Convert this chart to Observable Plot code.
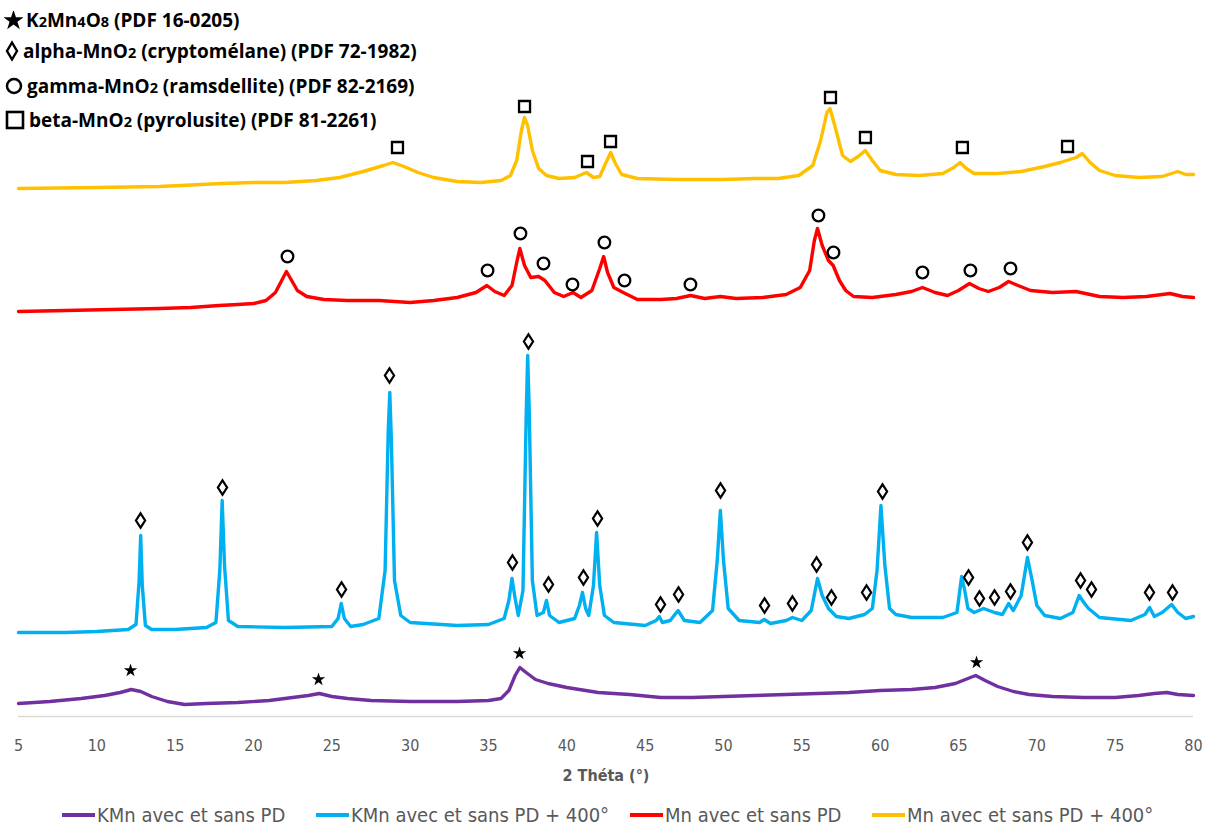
<!DOCTYPE html>
<html><head><meta charset="utf-8">
<script src="https://cdn.jsdelivr.net/npm/d3@7"></script>
<script src="https://cdn.jsdelivr.net/npm/@observablehq/plot@0.6"></script>
<style>
body{margin:0;background:#fff;}
#wrap{position:relative;width:1212px;height:830px;overflow:hidden;}
#sym{position:absolute;left:0;top:0;font-family:"Open Sans","Noto Sans",sans-serif;font-weight:700;font-size:19px;color:#000;}
.row{position:absolute;left:4px;white-space:nowrap;display:flex;align-items:center;height:24px;}
.row svg{margin-right:3px;}
.sub{font-size:14.5px;}
.leg{position:absolute;top:803px;height:24px;display:flex;align-items:center;white-space:nowrap;font-family:"Liberation Sans Narrow","DejaVu Sans Condensed","Liberation Sans",sans-serif;font-size:20px;color:#595959;}
.sw{width:33px;height:4px;margin-right:2px;}
</style>
</head><body>
<div id="wrap"></div>
<script>
// ---------- data (2θ in degrees, intensity in arbitrary units incl. vertical offsets) ----------
const seriesNames = ["KMn avec et sans PD", "KMn avec et sans PD + 400°", "Mn avec et sans PD", "Mn avec et sans PD + 400°"];
const seriesColors = ["#7030a0", "#00b0f0", "#ff0000", "#ffc000"];

const thetaKMn = [5,7,9,10.5,11.5,12.2,12.8,13.5,14.5,15.6,17,19,21,22.5,23.5,24.2,25,26,27.5,30,33,35,35.8,36.3,36.7,37,37.4,38,38.8,40,42,44,46,48,50,52,54,56,58,60,62,63.5,64.8,65.6,66.1,66.7,67.5,68.5,69.5,71,73,75,76.5,77.5,78.3,79,80];
const intKMn   = [13,15,18,21,24,27,25,20,15,12,13,14,16,19,21,23,20,18,16,15,15,16,18,26,41,49,44,37,33,29,24,22,19,19,20,21,22,23,24,26,27,29,33,38,41,36,30,25,22,20,19,19,21,23,24,22,21];

const thetaKMn400 = [5,8,10,12,12.5,12.7,12.8,12.9,13.1,13.5,15,17,17.6,17.85,18,18.15,18.4,19,22,25,25.4,25.6,25.8,26.2,27,28,28.4,28.6,28.7,28.8,29,29.4,30,33,35,36,36.3,36.5,36.7,36.9,37.2,37.4,37.5,37.6,37.8,38.1,38.5,38.7,38.9,39.5,40.5,40.8,41,41.2,41.4,41.7,41.9,42.1,42.4,43,45,45.7,45.9,46.1,46.6,47.1,47.5,48.5,49.3,49.6,49.8,50,50.3,51,52.3,52.6,53,54,54.4,55,55.6,56,56.3,56.7,57.2,58,59,59.5,59.8,60.05,60.3,60.6,61,62,64,64.9,65.2,65.4,65.6,66,66.6,67.3,67.8,68.2,68.5,69,69.4,69.7,70,70.5,71.5,72.3,72.7,73,73.3,74,76,76.9,77.2,77.5,78,78.6,79,79.5,80];
const intKMn400   = [84,84,85,87,92,136,181,131,91,87,87,89,94,146,216,151,96,90,89,90,98,113,98,90,92,98,146,286,324,276,136,101,94,91,92,98,116,138,118,101,126,296,361,306,136,101,104,116,101,94,98,111,124,108,101,131,184,131,101,94,91,96,100,94,96,106,96,94,106,156,206,156,108,96,94,97,93,96,99,96,106,138,121,108,100,98,102,108,146,211,151,108,102,99,99,104,140,126,108,104,108,104,102,113,106,121,159,136,111,101,98,104,121,114,108,99,96,102,109,100,104,112,104,98,100];

const thetaMn = [5,8,11,14,16,17.8,19,20,20.8,21.4,21.8,22.1,22.4,22.8,23.4,24.5,26,28,30,31.5,33,34.2,34.9,35.4,36,36.5,36.8,37,37.3,37.7,38.2,38.6,39.2,39.8,40.4,40.9,41.6,42.1,42.35,42.6,43,43.6,44.5,46,47,47.9,48.8,49.8,50.8,52.5,54,54.9,55.5,55.8,56,56.3,56.7,57,57.4,57.8,58.3,59.5,61,62,62.7,63.5,64.3,65,65.7,66.3,66.9,67.6,68.2,68.8,69.6,71,72.5,74,75.5,77,78.5,79.3,80];
const intMn   = [405,406,407,408,409,411,412,413,416,424,436,445,437,426,420,417,416,416,414,416,419,424,431,425,421,431,454,468,451,439,440,436,424,420,424,419,426,448,460,444,429,424,417,417,418,421,418,420,418,419,422,429,446,476,488,471,456,451,436,426,420,419,422,425,429,424,421,426,433,428,425,429,435,431,426,424,425,420,419,420,423,420,419];

const thetaMn400 = [5,10,14,18,20,22,24,25.5,27,28.3,28.9,29.6,30.5,31.5,33,34.5,35.8,36.4,36.8,37.1,37.3,37.5,37.8,38.2,38.7,39.5,40.5,41.25,41.7,42.1,42.5,42.8,43.1,43.5,44.5,47,50,52,53.5,54.8,55.7,56.2,56.6,56.8,57.1,57.6,58.1,58.6,59.05,59.5,60,61,62.5,64,64.7,65.1,65.5,66,67.5,69,70.5,71.5,72.5,72.9,73.4,74,75,76.5,78,79,79.5,80];
const intMn400   = [528,529,530,533,534,534,536,539,545,551,554,550,544,539,535,534,536,541,556,586,599,591,566,548,541,538,539,544,539,540,554,564,553,542,538,537,537,538,538,541,551,576,604,608,591,561,555,560,566,556,546,542,541,543,549,554,548,543,543,545,550,554,559,563,554,546,541,539,540,545,542,542];

// phase markers (2θ, height at which the marker is drawn)
const starTheta = [12.15, 24.15, 36.98, 66.15];
const starInt   = [46, 37, 63, 54];
const diamondTheta = [12.79,18.02,25.62,28.68,36.53,37.55,38.83,41.06,41.96,45.98,47.13,49.81,52.62,54.40,55.94,56.89,59.13,60.15,65.64,66.34,67.30,68.32,69.40,72.79,73.49,77.19,78.66];
const diamondInt   = [196,229,127,341,154,375,132,139,198,112,122,226,111,113,152,119,124,225,139,118,119,125,174,136,127,124,124];
const circleTheta = [22.17,34.94,37.04,38.51,40.36,42.40,43.68,47.89,56.06,57.02,62.70,65.76,68.32];
const circleInt   = [460,446,483,453,432,474,436,432,501,464,444,446,448];
const squareTheta = [29.19,37.30,41.32,42.79,56.83,59.06,65.25,71.96];
const squareInt   = [569,610,555,575,619,579,569,570];

const xTicks = [5,10,15,20,25,30,35,40,45,50,55,60,65,70,75,80];
const xLabel = "2 Théta (°)";
const phaseLabels = [
  ['K<span class="sub">2</span>Mn<span class="sub">4</span>O<span class="sub">8</span> (PDF 16-0205)'],
  ['alpha-MnO<span class="sub">2</span> (cryptomélane) (PDF 72-1982)'],
  ['gamma-MnO<span class="sub">2</span> (ramsdellite) (PDF 82-2169)'],
  ['beta-MnO<span class="sub">2</span> (pyrolusite) (PDF 81-2261)']
];

// ---------- build tables ----------
const traces = [
  [thetaKMn, intKMn], [thetaKMn400, intKMn400], [thetaMn, intMn], [thetaMn400, intMn400]
].flatMap(([t, v], i) => t.map((x, j) => ({series: seriesNames[i], theta: x, intensity: v[j]})));
const pts = (t, v) => t.map((x, j) => ({theta: x, intensity: v[j]}));

const lozenge = {draw(ctx, size) { const s = Math.sqrt(size) / 4.43; ctx.moveTo(0, -7.2*s); ctx.lineTo(4.6*s, 0); ctx.lineTo(0, 7.2*s); ctx.lineTo(-4.6*s, 0); ctx.closePath(); }};

const chart = Plot.plot({
  width: 1212, height: 790,
  marginLeft: 18, marginRight: 19, marginTop: 0, marginBottom: 74,
  style: {fontFamily: '"Liberation Sans Narrow","DejaVu Sans Condensed","Liberation Sans",sans-serif', background: "white"},
  x: {domain: [5, 80]},
  y: {domain: [0, 716], axis: null},
  color: {domain: seriesNames, range: seriesColors},
  marks: [
    Plot.ruleY([0], {stroke: "#d9d9d9", strokeWidth: 1.5}),
    Plot.axisX({ticks: xTicks, tickSize: 0, tickPadding: 23, fontSize: 16, fill: "#595959", label: null}),
    Plot.text([xLabel], {frameAnchor: "bottom", dy: 64, fontSize: 16, fontWeight: "bold", fill: "#595959"}),
    Plot.line(traces, {x: "theta", y: "intensity", z: "series", stroke: "series", strokeWidth: 3.4, strokeLinejoin: "round"}),
    Plot.dot(pts(starTheta, starInt), {x: "theta", y: "intensity", symbol: "star", r: 4.2, fill: "black", stroke: "none"}),
    Plot.dot(pts(diamondTheta, diamondInt), {x: "theta", y: "intensity", symbol: lozenge, r: 2.5, fill: "white", stroke: "black", strokeWidth: 2.2}),
    Plot.dot(pts(circleTheta, circleInt), {x: "theta", y: "intensity", symbol: "circle", r: 5.8, fill: "white", stroke: "black", strokeWidth: 2.3}),
    Plot.dot(pts(squareTheta, squareInt), {x: "theta", y: "intensity", symbol: "square", r: 6.2, fill: "white", stroke: "black", strokeWidth: 2.3})
  ]
});
const wrap = document.getElementById("wrap");
wrap.appendChild(chart);

// phase legend (top-left)
const icons = [
  '<svg width="19" height="19" viewBox="-9.5 -9.5 19 19"><path d="' + d3.symbol(d3.symbolStar, 130)() + '" fill="black"/></svg>',
  '<svg width="16" height="22" viewBox="-8 -11 16 22"><path d="M0,-8.5L5,0L0,8.5L-5,0Z" fill="none" stroke="black" stroke-width="2.4"/></svg>',
  '<svg width="20" height="20" viewBox="-10 -10 20 20"><circle r="7" fill="none" stroke="black" stroke-width="2.5"/></svg>',
  '<svg width="22" height="22" viewBox="-11 -11 22 22"><rect x="-8" y="-8" width="16" height="16" fill="none" stroke="black" stroke-width="2.6"/></svg>'
];
const rowTops = [8, 39, 74, 108];
const sym = document.createElement("div"); sym.id = "sym";
phaseLabels.forEach((l, i) => {
  const r = document.createElement("div"); r.className = "row"; r.style.top = rowTops[i] + "px";
  r.innerHTML = icons[i] + "<span>" + l[0] + "</span>";
  sym.appendChild(r);
});
wrap.appendChild(sym);

// series legend (bottom)
const legLeft = [62, 316, 630, 872];
seriesNames.forEach((n, i) => {
  const d = document.createElement("div"); d.className = "leg"; d.style.left = legLeft[i] + "px";
  d.innerHTML = '<div class="sw" style="background:' + seriesColors[i] + '"></div><span>' + n + '</span>';
  wrap.appendChild(d);
});
</script>
</body></html>
